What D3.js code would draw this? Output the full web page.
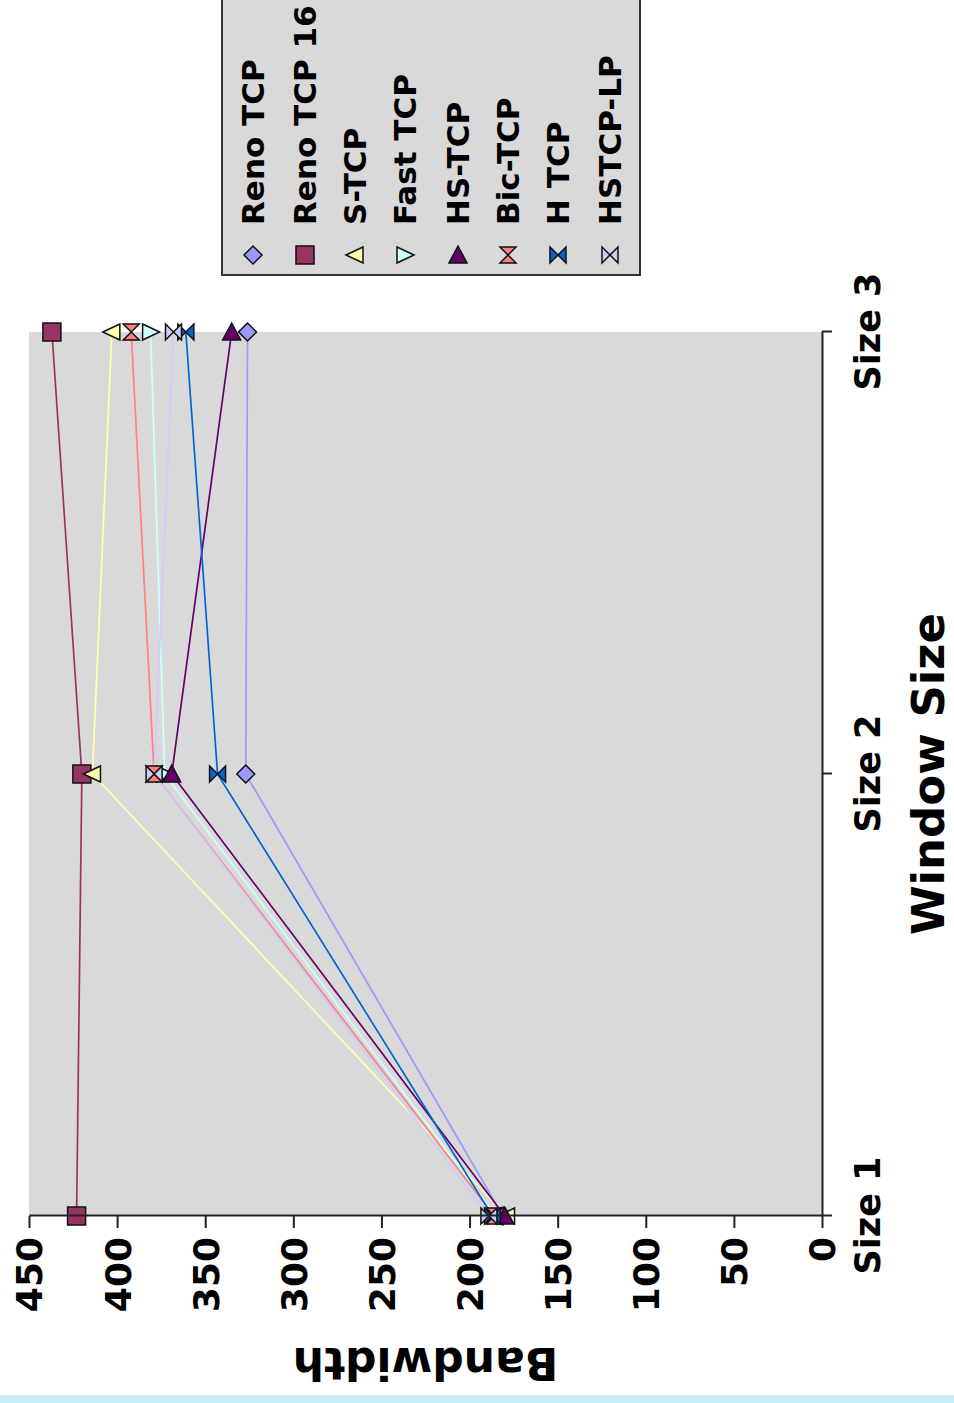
<!DOCTYPE html>
<html>
<head>
<meta charset="utf-8">
<script src="https://cdn.jsdelivr.net/npm/d3@7"></script>
<style>
  body { margin: 0; background: #fff; }
  svg { display: block; }
  text { font-family: "DejaVu Sans", Verdana, sans-serif; font-weight: bold; fill: #000; }
</style>
</head>
<body>
<div id="viz"></div>
<script>
// chart data
var categories = ['Size 1', 'Size 2', 'Size 3'];
var seriesNames = ['Reno TCP', 'Reno TCP 16', 'S-TCP', 'Fast TCP', 'HS-TCP', 'Bic-TCP', 'H TCP', 'HSTCP-LP'];
var renoTcp   = [181, 327, 326];
var reno16    = [423, 420, 437];
var sTcp      = [179, 414, 403];
var fastTcp   = [185, 373, 381];
var hsTcp     = [180, 369, 335];
var bicTcp    = [186, 379, 392];
var hTcp      = [187, 343, 361];
var hstcpLp   = [189, 379, 368];
var yTicks = [0, 50, 100, 150, 200, 250, 300, 350, 400, 450];

var allSeries = [renoTcp, reno16, sTcp, fastTcp, hsTcp, bicTcp, hTcp, hstcpLp];
var colors = ['#9999ff', '#993366', '#ffffb0', '#ccffff', '#660066', '#ff8080', '#0066cc', '#ccccff'];
var shapes = ['diamond', 'square', 'triLeft', 'triRight', 'triUp', 'hourglass', 'bowtie', 'bowtie'];

// the whole chart is drawn unrotated then turned 90deg counter-clockwise
var pageW = 954, pageH = 1403;
var W = pageH, H = pageW;
var margin = { left: 187, right: W - 1071, top: 29, bottom: H - 822 };

var svg = d3.select('#viz').append('svg')
  .attr('width', pageW)
  .attr('height', pageH);

var g = svg.append('g')
  .attr('transform', 'translate(0,' + pageH + ') rotate(-90)');

var xScale = d3.scalePoint()
  .domain(categories)
  .range([margin.left, W - margin.right])
  .padding(0);

var yScale = d3.scaleLinear()
  .domain([0, 450])
  .range([H - margin.bottom, margin.top]);

// plot background
g.append('rect')
  .attr('x', margin.left)
  .attr('y', margin.top)
  .attr('width', W - margin.right - margin.left)
  .attr('height', H - margin.bottom - margin.top)
  .attr('fill', '#d9d9d9');

// lines
var line = d3.line()
  .x(function(d, i) { return xScale(categories[i]); })
  .y(function(d) { return yScale(d); });

allSeries.forEach(function(s, k) {
  g.append('path')
    .attr('d', line(s))
    .attr('fill', 'none')
    .attr('stroke', colors[k])
    .attr('stroke-width', 1.7);
});

function shapePath(name) {
  switch (name) {
    case 'diamond': return 'M0,-9L9,0L0,9L-9,0Z';
    case 'square': return 'M-9,-9L9,-9L9,9L-9,9Z';
    case 'triLeft': return 'M-9,0L8,-8L8,8Z';
    case 'triRight': return 'M9,0L-8,-8L-8,8Z';
    case 'triUp': return 'M0,-9L9,8L-9,8Z';
    case 'hourglass': return 'M-8,-8L8,-8L-8,8L8,8Z';
    case 'bowtie': return 'M-8,-8L8,8L8,-8L-8,8Z';
  }
}

// markers, counter-rotated so they look right on the page
allSeries.forEach(function(s, k) {
  g.selectAll('.m' + k).data(s).enter()
    .append('path')
      .attr('class', 'm' + k)
      .attr('transform', function(d, i) {
        return 'translate(' + xScale(categories[i]) + ',' + yScale(d) + ') rotate(90)';
      })
      .attr('d', shapePath(shapes[k]))
      .attr('fill', colors[k])
      .attr('stroke', '#111')
      .attr('stroke-width', 1.5)
      .attr('stroke-linejoin', 'miter');
});

// axes
var yAxis = d3.axisLeft(yScale)
  .tickValues(yTicks)
  .tickSize(12)
  .tickSizeOuter(0)
  .tickPadding(9);

var yGuide = g.append('g')
  .attr('transform', 'translate(' + margin.left + ',0)')
  .call(yAxis);
yGuide.selectAll('text')
  .style('font-size', '36px')
  .attr('dy', '0.36em');

var xAxis = d3.axisBottom(xScale)
  .tickSize(10)
  .tickSizeOuter(0)
  .tickPadding(23);

var xGuide = g.append('g')
  .attr('transform', 'translate(0,' + (H - margin.bottom) + ')')
  .call(xAxis);
xGuide.selectAll('text')
  .style('font-size', '35px');

g.selectAll('.domain, .tick line')
  .attr('stroke', '#222')
  .attr('stroke-width', 2);

// axis titles
g.append('text')
  .attr('x', (margin.left + W - margin.right) / 2)
  .attr('y', 944)
  .attr('text-anchor', 'middle')
  .style('font-size', '45px')
  .text('Window Size');

g.append('text')
  .attr('transform', 'translate(55,' + (margin.top + H - margin.bottom) / 2 + ') rotate(-90)')
  .attr('text-anchor', 'middle')
  .style('font-size', '44px')
  .text('Bandwidth');

// legend
var legendX = 1128, legendTop = 222, legendBottom = 640;
g.append('rect')
  .attr('x', legendX)
  .attr('y', legendTop)
  .attr('width', W - legendX + 20)
  .attr('height', legendBottom - legendTop)
  .attr('fill', '#d9d9d9')
  .attr('stroke', '#333')
  .attr('stroke-width', 2);

var legendRows = [253, 305, 355, 405, 458, 508, 558, 610];
var legend = g.selectAll('.legend').data(seriesNames).enter()
  .append('g')
    .attr('class', 'legend')
    .attr('transform', function(d, i) { return 'translate(0,' + legendRows[i] + ')'; });

legend.append('path')
  .attr('transform', 'translate(1148,0) rotate(90)')
  .attr('d', function(d, i) { return shapePath(shapes[i]); })
  .attr('fill', function(d, i) { return colors[i]; })
  .attr('stroke', '#111')
  .attr('stroke-width', 1.5);

legend.append('text')
  .attr('x', 1178)
  .attr('y', 11)
  .style('font-size', '31px')
  .text(function(d) { return d; });

// cyan strip along the bottom of the page
svg.append('rect')
  .attr('x', 0)
  .attr('y', 1395)
  .attr('width', pageW)
  .attr('height', 8)
  .attr('fill', '#c9edf4');
</script>
</body>
</html>
